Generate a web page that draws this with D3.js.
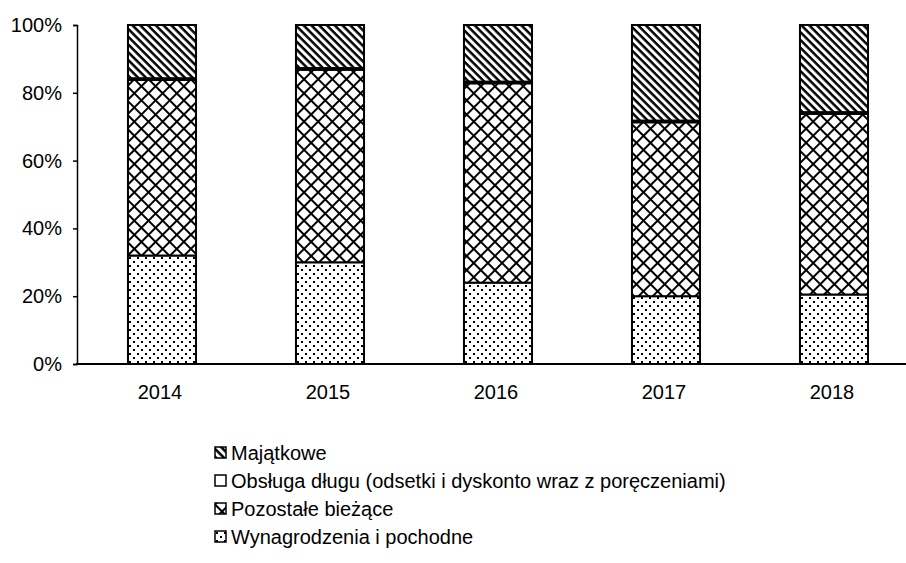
<!DOCTYPE html>
<html>
<head>
<meta charset="utf-8">
<script src="https://cdn.jsdelivr.net/npm/d3@7"></script>
<style>
  html, body { margin: 0; padding: 0; background: #fff; }
  svg { display: block; font-family: "Liberation Sans", Arial, sans-serif; }
</style>
</head>
<body>
<svg id="chart" width="906" height="563"></svg>
<script>
// ---- data ----
const years = ["2014", "2015", "2016", "2017", "2018"];
const wynagrodzenia = [32, 30, 24, 20, 20.5];      // Wynagrodzenia i pochodne
const pozostale = [51.8, 56.8, 58.8, 51.3, 53.3];   // Pozostałe bieżące
const obsluga = [0.5, 0.5, 0.5, 0.5, 0.5];          // Obsługa długu
const majatkowe = [15.7, 12.7, 16.7, 28.2, 25.7];   // Majątkowe
const yTicks = [0, 20, 40, 60, 80, 100];
const seriesKeys = ["wyn", "poz", "obs", "maj"];
const legendLabels = [
  "Majątkowe",
  "Obsługa długu (odsetki i dyskonto wraz z poręczeniami)",
  "Pozostałe bieżące",
  "Wynagrodzenia i pochodne"
];
const legendKeys = ["maj", "obs", "poz", "wyn"];

const rows = years.map((y, i) => ({
  year: y, wyn: wynagrodzenia[i], poz: pozostale[i], obs: obsluga[i], maj: majatkowe[i]
}));

const svg = d3.select("#chart");
const defs = svg.append("defs");

// diagonal lines pattern (Majątkowe), "\" direction
const pDiag = defs.append("pattern").attr("id", "p-maj")
  .attr("patternUnits", "userSpaceOnUse").attr("width", 5.5).attr("height", 5.5)
  .attr("patternTransform", "rotate(45)");
pDiag.append("rect").attr("width", 5.5).attr("height", 5.5).attr("fill", "#fff");
pDiag.append("rect").attr("x", 0).attr("y", 0).attr("width", 5.5).attr("height", 2.5).attr("fill", "#000");

// crosshatch (Pozostałe)
const pCross = defs.append("pattern").attr("id", "p-poz")
  .attr("patternUnits", "userSpaceOnUse").attr("width", 10).attr("height", 10)
  .attr("patternTransform", "rotate(45)");
pCross.append("rect").attr("width", 10).attr("height", 10).attr("fill", "#fff");
pCross.append("rect").attr("x", 0).attr("y", 0).attr("width", 10).attr("height", 2).attr("fill", "#000");
pCross.append("rect").attr("x", 0).attr("y", 0).attr("width", 2).attr("height", 10).attr("fill", "#000");

// dots (Wynagrodzenia)
const pDots = defs.append("pattern").attr("id", "p-wyn")
  .attr("patternUnits", "userSpaceOnUse").attr("width", 8).attr("height", 8);
pDots.append("rect").attr("width", 8).attr("height", 8).attr("fill", "#fff");
pDots.append("rect").attr("x", 1).attr("y", 1).attr("width", 2).attr("height", 2).attr("fill", "#000");
pDots.append("rect").attr("x", 5).attr("y", 5).attr("width", 2).attr("height", 2).attr("fill", "#000");

const fills = { maj: "url(#p-maj)", poz: "url(#p-poz)", wyn: "url(#p-wyn)", obs: "#fff" };

// ---- scales ----
const x = d3.scaleBand().domain(years).range([78, 918])
  .paddingInner(0.595).paddingOuter(0.2975);
const y = d3.scaleLinear().domain([0, 100]).range([364, 25]);

const stack = d3.stack().keys(seriesKeys)(rows);

const g = svg.append("g");
stack.forEach(layer => {
  g.selectAll(null).data(layer).enter().append("rect")
    .attr("x", d => x(d.data.year))
    .attr("y", d => y(d[1]))
    .attr("width", x.bandwidth())
    .attr("height", d => y(d[0]) - y(d[1]))
    .attr("fill", fills[layer.key])
    .attr("stroke", "#000")
    .attr("stroke-width", 2);
});

// ---- axes ----
const yAxis = d3.axisLeft(y).tickValues(yTicks).tickFormat(d => d + "%")
  .tickSize(4).tickPadding(11);
const ya = svg.append("g").attr("transform", "translate(77,0)").call(yAxis);
ya.select(".domain").attr("stroke", "#000").attr("stroke-width", 1.5);
ya.selectAll(".tick line").attr("stroke", "#000").attr("stroke-width", 1.5);
ya.selectAll(".tick text").attr("font-size", 20).attr("fill", "#000")
  .attr("font-family", "'Liberation Sans', Arial, sans-serif");

const xAxis = d3.axisBottom(x).tickSize(0).tickPadding(21);
const xa = svg.append("g").attr("transform", "translate(-2,364)").call(xAxis);
xa.select(".domain").remove();
xa.selectAll(".tick text").attr("font-size", 20).attr("fill", "#000")
  .attr("font-family", "'Liberation Sans', Arial, sans-serif");
svg.append("line").attr("x1", 76).attr("x2", 906).attr("y1", 364).attr("y2", 364)
  .attr("stroke", "#000").attr("stroke-width", 2);

// ---- legend ----
const lg = svg.append("g").attr("transform", "translate(215,447)");
legendKeys.forEach((k, i) => {
  const row = lg.append("g").attr("transform", `translate(0,${i * 28})`);
  row.append("rect").attr("x", 0).attr("y", 0).attr("width", 11).attr("height", 11)
    .attr("fill", fills[k]).attr("stroke", "#000").attr("stroke-width", 1.5);
  row.append("text").attr("x", 16).attr("y", 6).attr("dy", "0.35em")
    .attr("font-size", 20).attr("fill", "#000").text(legendLabels[i]);
});
</script>
</body>
</html>
